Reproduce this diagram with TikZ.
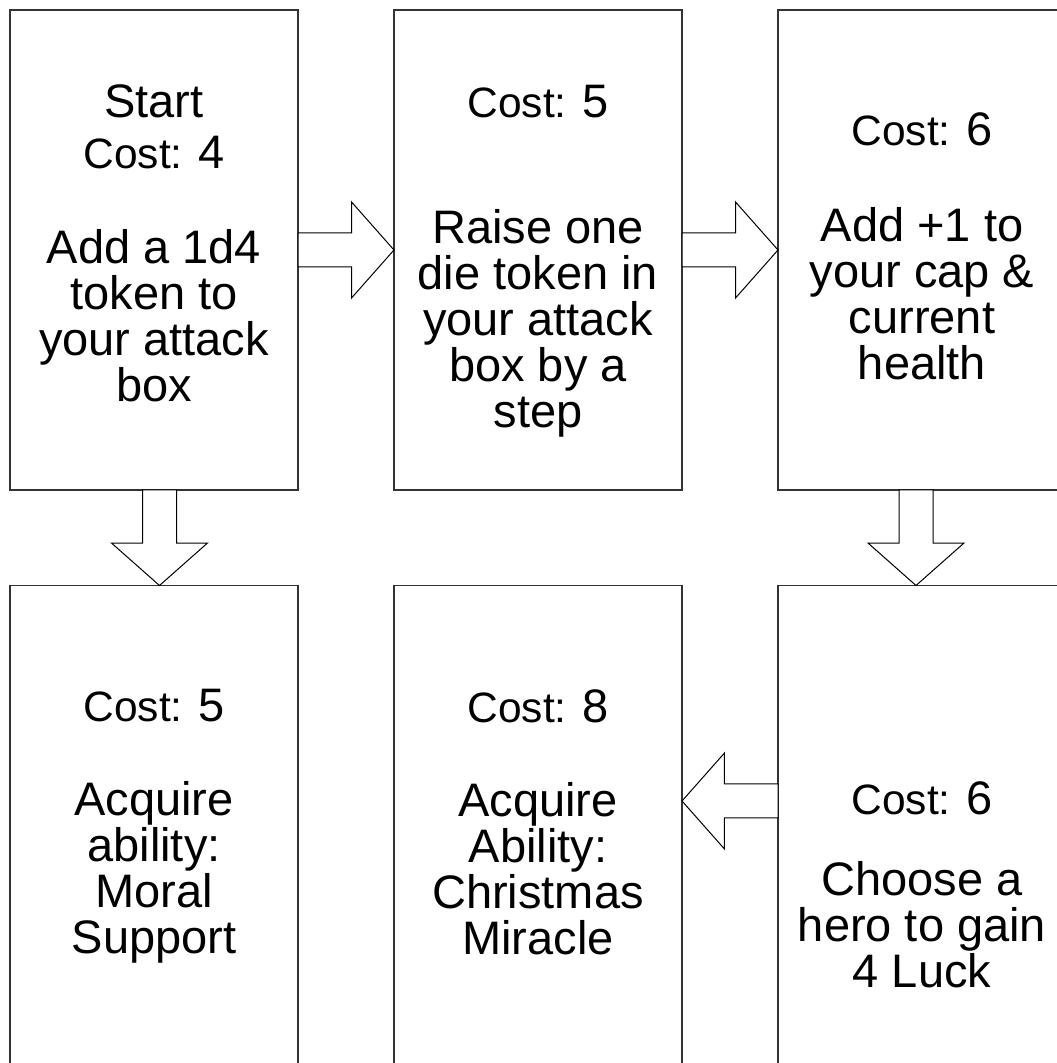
\documentclass[tikz,border=0pt]{standalone}
\usepackage{fontspec}
\setmainfont{Liberation Sans}
\usetikzlibrary{positioning, calc, shapes.arrows}
\tikzset{
	x=1pt, y=1pt,
	stage/.style={draw=black!80, line width=1.5pt, minimum width=288pt, minimum height=480pt, inner sep=0pt, outer sep=0pt},
	blurb/.style={align=center, anchor=north, inner sep=0pt, font=\fontsize{47}{46}\selectfont},
	flow/.style={draw=black, line width=1pt, fill=white, single arrow, single arrow head extend=31pt, single arrow tip angle=97, inner xsep=0pt, inner ysep=16.5pt, minimum height=96pt, outer sep=0pt, anchor=tail},
	flowdown/.style={flow, shape border rotate=270, inner xsep=16.5pt, inner ysep=0pt, minimum height=95.5pt}
}
\newcommand{\cost}[1]{{\fontsize{42.5}{46}\selectfont Cost: }#1}

\begin{document}
\begin{tikzpicture}
	\useasboundingbox (0,0) rectangle (1057,1063);
	\fill[white] (0,0) rectangle (1057,1063);
	\clip (0,0) rectangle (1057,1063);
	% boxes
	\node[stage] (b1) at (154,813) {};
	\node[stage, right=96pt of b1] (b2) {};
	\node[stage, right=96pt of b2] (b3) {};
	\node[stage, below=95.5pt of b1] (b4) {};
	\node[stage, right=96pt of b4] (b5) {};
	\node[stage, right=96pt of b5] (b6) {};
	% texts
	\node[blurb] (t1) at ($(b1.north)+(0,-74)$) {Start\\[5pt]\cost{4}\\[49pt]Add a 1d4\\token to\\your attack\\box};
	\node[blurb] (t2) at ($(b2.north)+(0,-75)$) {\cost{5}\\[80pt]Raise one\\die token in\\your attack\\box by a\\step};
	\node[blurb] (t3) at ($(b3.north)+(0,-102)$) {\cost{6}\\[50pt]Add +1 to\\your cap \&\\current\\health};
	\node[blurb] (t4) at ($(b4.north)+(0,-103.5)$) {\cost{5}\\[48pt]Acquire\\ability:\\Moral\\Support};
	\node[blurb] (t5) at ($(b5.north)+(0,-103.5)$) {\cost{8}\\[48pt]Acquire\\Ability:\\Christmas\\Miracle};
	\node[blurb] (t6) at ($(b6.north)+(0,-195.5)$) {\cost{6}\\[35pt]Choose a\\hero to gain\\4 Luck};
	% arrows
	\node[flow] (a12) at (b1.east) {};
	\node[flow] (a23) at (b2.east) {};
	\node[flowdown] (a14) at ($(b1.south)+(5.5,0)$) {};
	\node[flowdown] (a36) at ($(b3.south)+(-6,0)$) {};
	\node[flow, shape border rotate=180] (a65) at ($(b6.west)+(0,24.5)$) {};
\end{tikzpicture}
\end{document}
